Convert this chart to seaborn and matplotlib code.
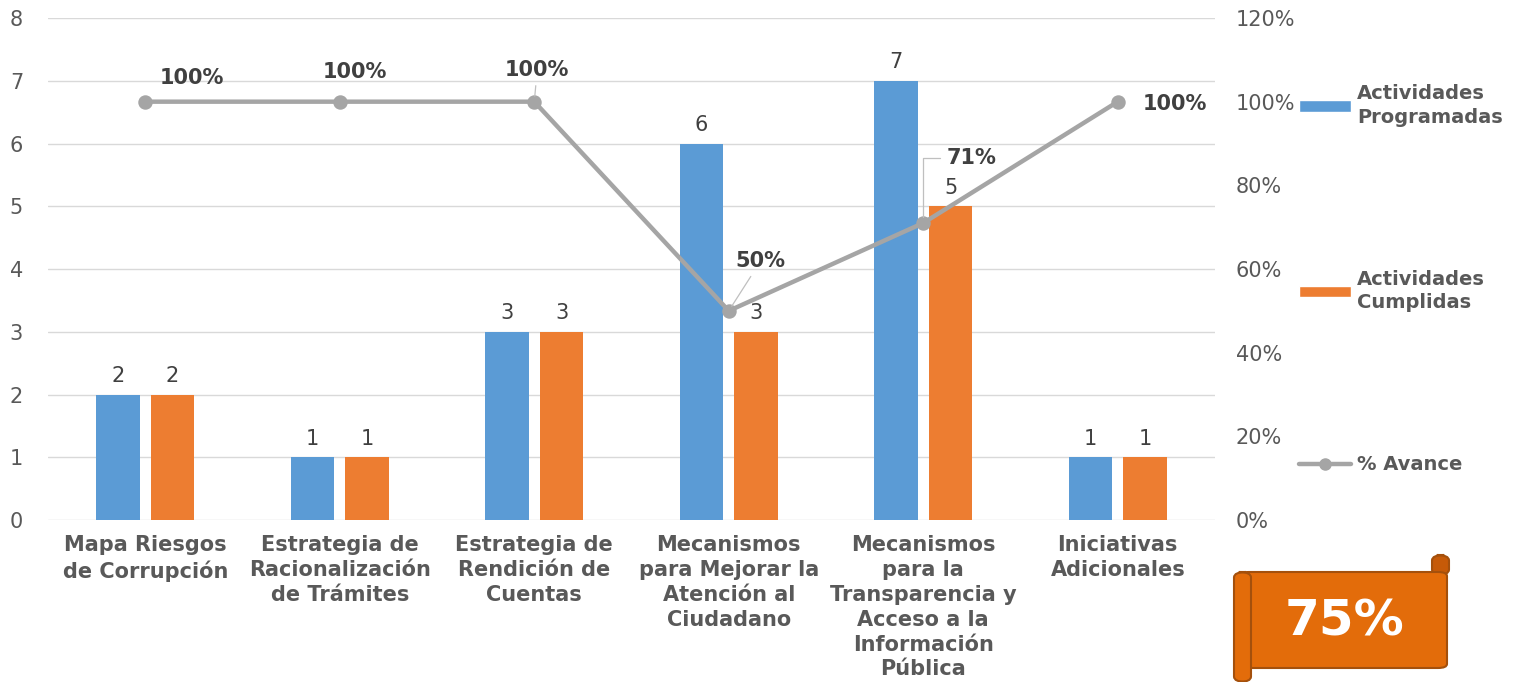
import numpy as np
import pandas as pd
import matplotlib
matplotlib.use("Agg")
import matplotlib.pyplot as plt
import seaborn as sns
from matplotlib.patches import Patch, FancyBboxPatch
from matplotlib.lines import Line2D

categorias = ["Mapa Riesgos\nde Corrupción",
              "Estrategia de\nRacionalización\nde Trámites",
              "Estrategia de\nRendición de\nCuentas",
              "Mecanismos\npara Mejorar la\nAtención al\nCiudadano",
              "Mecanismos\npara la\nTransparencia y\nAcceso a la\nInformación\nPública",
              "Iniciativas\nAdicionales"]
programadas = [2, 1, 3, 6, 7, 1]
cumplidas = [2, 1, 3, 3, 5, 1]
avance = [100, 100, 100, 50, 71, 100]
avance_total = "75%"

serie_prog = "Actividades\nProgramadas"
serie_cump = "Actividades\nCumplidas"
serie_avance = "% Avance"

azul = "#5B9BD5"
naranja = "#ED7D31"
gris = "#A5A5A5"
texto = "#595959"
texto_osc = "#404040"

df = pd.DataFrame({
    "categoria": categorias * 2,
    "valor": programadas + cumplidas,
    "serie": [serie_prog] * len(categorias) + [serie_cump] * len(categorias),
})

sns.set_style("white")
plt.rcParams['font.family'] = ['DejaVu Sans']

fig = plt.figure(figsize=(15.15, 6.82), dpi=100)
ax = fig.add_axes([0.0317, 0.2375, 0.7703, 0.7361])

sns.barplot(data=df, x="categoria", y="valor", hue="serie", order=categorias,
            palette=[azul, naranja], width=0.56, gap=0.2, legend=False,
            saturation=1, linewidth=0, ax=ax)

for cont in ax.containers:
    ax.bar_label(cont, padding=6, fontsize=15, color=texto_osc)

ax.set_ylim(0, 8)
ax.set_yticks(range(0, 9))
ax.grid(axis="y", color="#D9D9D9", linewidth=1)
ax.set_axisbelow(True)
for s in ax.spines.values():
    s.set_visible(False)
ax.set_xlabel("")
ax.set_ylabel("")
ax.tick_params(axis="y", length=0, pad=18, labelsize=15, labelcolor=texto)
ax.tick_params(axis="x", length=0, pad=11)
ax.set_xticks(range(len(categorias)))
ax.set_xticklabels(categorias, fontsize=15, fontweight="bold", color=texto,
                   linespacing=1.3)

ax2 = ax.twinx()
sns.pointplot(x=categorias, y=avance, order=categorias, color=gris,
              markers="o", linestyles="-", markersize=8, linewidth=3.2, ax=ax2)
ax2.set_ylim(0, 120)
ax2.set_yticks(range(0, 121, 20))
ax2.set_yticklabels([f"{v}%" for v in range(0, 121, 20)])
ax2.tick_params(axis="y", length=0, pad=15, labelsize=15, labelcolor=texto)
for s in ax2.spines.values():
    s.set_visible(False)
ax2.set_xlim(-0.5, len(categorias) - 0.5)
ax.set_xlim(-0.5, len(categorias) - 0.5)
ax2.set_ylabel("")

# etiquetas del % de avance
offsets = [(47, 24), (15, 30), (3, 32), (32, 50), (48, 65), (57, -2)]
lideres = [None, None, "arc3", "arc3", "angle,angleA=0,angleB=90,rad=0", None]
for i, (v, off, lid) in enumerate(zip(avance, offsets, lideres)):
    props = None
    if lid is not None:
        props = dict(arrowstyle="-", color="#BFBFBF", lw=0.9,
                     connectionstyle=lid, shrinkA=2, shrinkB=4)
    ax2.annotate(f"{v}%", xy=(i, v), xytext=off, textcoords="offset pixels",
                 ha="center", va="center", fontsize=15, fontweight="bold",
                 color=texto_osc, arrowprops=props)

handles = [Patch(facecolor=azul, label=serie_prog),
           Patch(facecolor=naranja, label=serie_cump),
           Line2D([0], [0], color=gris, lw=3.2, marker="o", markersize=8,
                  label=serie_avance)]
leg = fig.legend(handles=handles, loc="upper left", bbox_to_anchor=(0.852, 0.888),
                 frameon=False, labelspacing=7.35, handlelength=2.7,
                 handleheight=0.5, handletextpad=0.3, borderaxespad=0,
                 prop={"size": 14, "weight": "bold"})
for t in leg.get_texts():
    t.set_color(texto)
    t.set_linespacing(1.3)

# cinta con el avance total
naranja_osc = "#E36C0A"
borde = "#A4500C"
W, H = 1515, 682
cuerpo = FancyBboxPatch((1240 / W, 1 - 668 / H), 207 / W, 96 / H,
                        boxstyle="round,pad=0,rounding_size=0.006",
                        transform=fig.transFigure, facecolor=naranja_osc,
                        edgecolor=borde, lw=1.5, zorder=5)
fig.patches.append(cuerpo)
rollo_izq = FancyBboxPatch((1234 / W, 0.0), 17 / W, (682 - 572) / H,
                           boxstyle="round,pad=0,rounding_size=0.008",
                           transform=fig.transFigure, facecolor=naranja_osc,
                           edgecolor=borde, lw=1.5, zorder=6)
fig.patches.append(rollo_izq)
rollo_der = FancyBboxPatch((1432 / W, 1 - 575 / H), 17 / W, 20 / H,
                           boxstyle="round,pad=0,rounding_size=0.008",
                           transform=fig.transFigure, facecolor="#C65A08",
                           edgecolor=borde, lw=1.5, zorder=4)
fig.patches.append(rollo_der)
fig.text(1345 / W, 1 - 622 / H, avance_total, ha="center", va="center",
         fontsize=36, fontweight="bold", color="white", zorder=7)

fig.savefig("out.png", dpi=100)
